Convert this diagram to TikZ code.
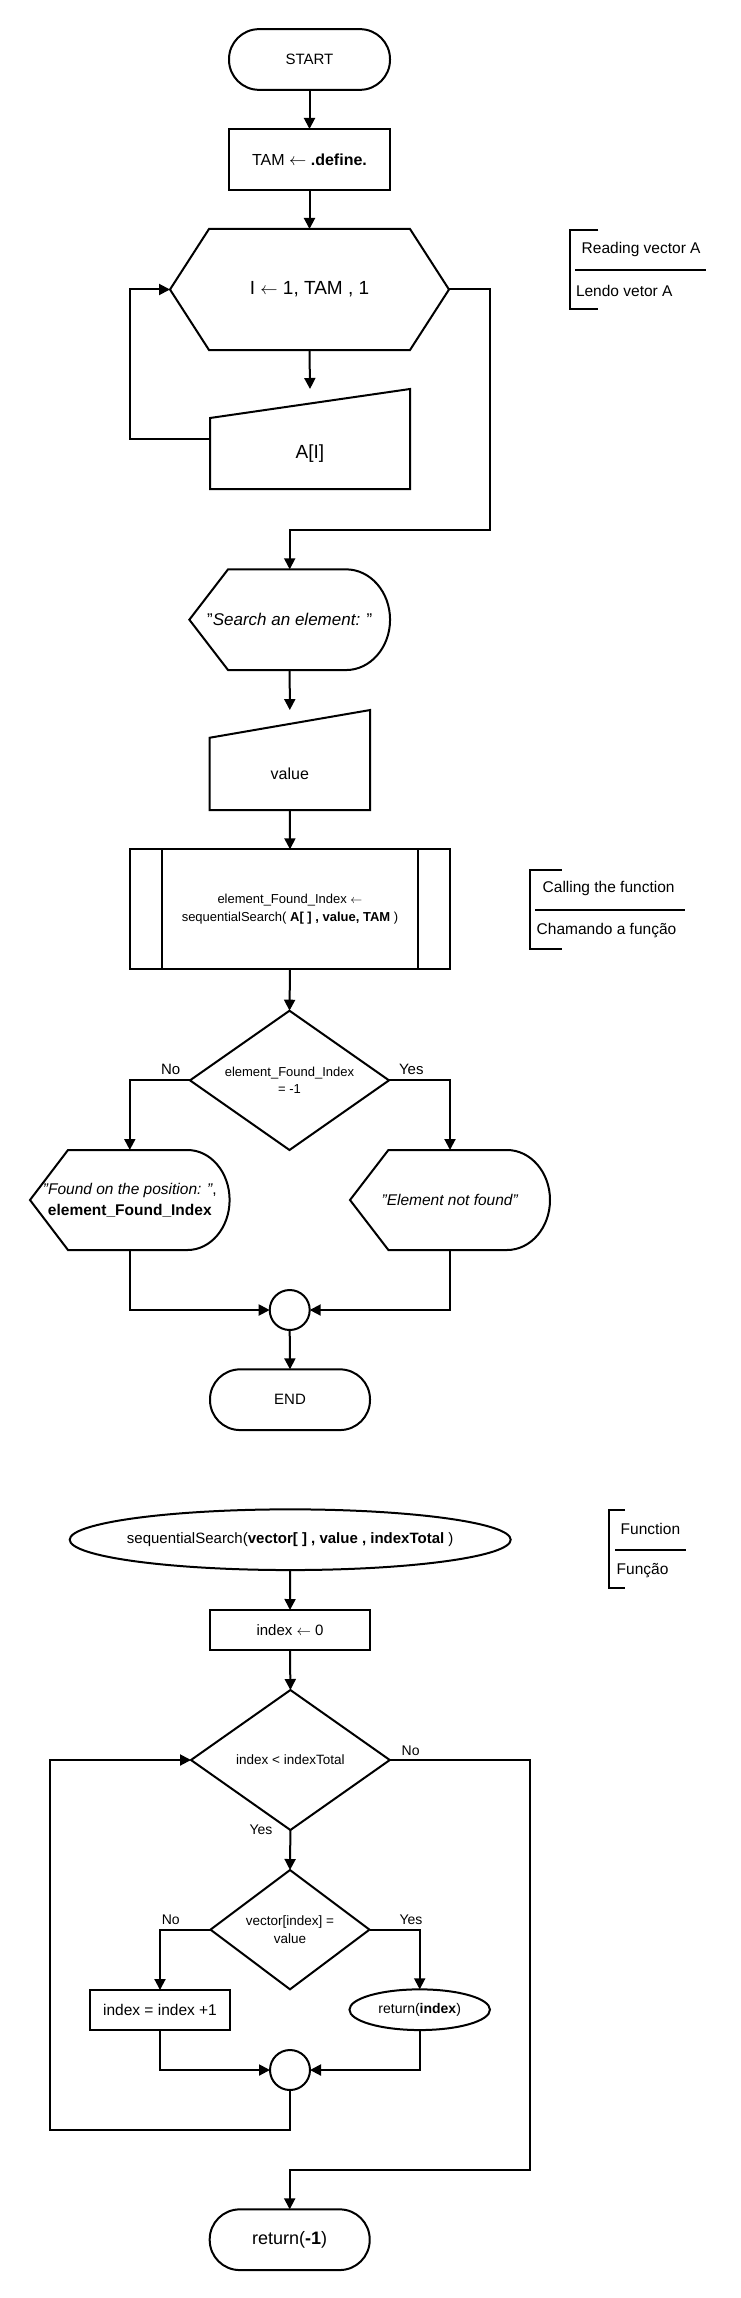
\documentclass[tikz,border=0pt]{standalone}
\usepackage{fontspec}
\setmainfont{Liberation Sans}
\usetikzlibrary{arrows.meta,shapes.geometric,calc}
\newcommand{\larr}{\ensuremath{\leftarrow}}
\begin{document}
\begin{tikzpicture}[x=1pt,y=1pt,line width=2pt,
  every node/.style={inner sep=0pt,outer sep=0pt,align=center},
  arr/.style={-{Triangle[length=11pt,width=11pt]}},
  term/.style={draw,rectangle,rounded corners=30pt,minimum height=60.7pt},
  boxn/.style={draw,rectangle},
  plain/.style={rectangle},
  fa/.style={font=\fontsize{13}{18.6}\selectfont},
  fb/.style={font=\fontsize{14}{17}\selectfont},
  fc/.style={font=\fontsize{15}{20.7}\selectfont},
  fd/.style={font=\fontsize{15.5}{20.7}\selectfont},
  fe/.style={font=\fontsize{16}{19}\selectfont},
  ff/.style={font=\fontsize{17}{20}\selectfont},
  fg/.style={font=\fontsize{18}{21}\selectfont},
  fh/.style={font=\fontsize{19}{22}\selectfont},
  fdia/.style={font=\fontsize{13}{17.6}\selectfont},
  fdib/.style={font=\fontsize{13.5}{18.6}\selectfont},
]
\useasboundingbox (0,0) rectangle (740,-2298);

% ---------- part 1 ----------
\node[term,minimum width=161pt,fc] (start) at (309.5,-59.5) {START};
\node[boxn,minimum width=161pt,minimum height=61pt,fe] (tam) at (309.5,-159.5) {TAM \larr\ \textbf{.define.}};
\node[plain,minimum width=279pt,minimum height=121pt,fh] (hex) at (309.5,-289.5) {I \larr\ 1, TAM , 1};
\draw (hex.west) -- ([xshift=39pt]hex.north west) -- ([xshift=-39pt]hex.north east) -- (hex.east)
  -- ([xshift=-39pt]hex.south east) -- ([xshift=39pt]hex.south west) -- cycle;
\node[plain,minimum width=200pt,minimum height=71pt,fh] (ai) at (310,-453.5) {A[I]};
\draw (ai.south west) -- (ai.north west) -- ([yshift=29pt]ai.north east) -- (ai.south east) -- cycle;
\coordinate (aitop) at ([yshift=29pt]ai.north);

\node[plain,minimum width=200.7pt,minimum height=100.7pt,ff] (srch) at (289.7,-619.7) {"\textit{Search an element: }"};
\draw (srch.west) -- ([xshift=38.7pt]srch.north west) -- ([xshift=-44pt]srch.north east)
  arc[start angle=90,end angle=-90,x radius=44pt,y radius=50.35pt] -- ([xshift=38.7pt]srch.south west) -- cycle;

\node[plain,minimum width=160.4pt,minimum height=72.3pt,fe] (val) at (289.8,-773.9) {value};
\draw (val.south west) -- (val.north west) -- ([yshift=27.7pt]val.north east) -- (val.south east) -- cycle;
\coordinate (valtop) at ([yshift=27.7pt]val.north);

\node[boxn,minimum width=320pt,minimum height=120pt,fa] (sub) at (290,-909.3) {element\_Found\_Index \larr\\sequentialSearch( \textbf{A[ ] , value, TAM} )};
\draw ([xshift=32pt]sub.north west) -- ([xshift=32pt]sub.south west);
\draw ([xshift=-32pt]sub.north east) -- ([xshift=-32pt]sub.south east);

\node[plain,minimum width=199pt,minimum height=139.3pt,fdia] (d1) at (289.5,-1080.35) {element\_Found\_Index\\= -1};
\draw (d1.north) -- (d1.east) -- (d1.south) -- (d1.west) -- cycle;

\node[plain,minimum width=199.6pt,minimum height=100pt,fd] (fnd) at (129.8,-1200) {\textit{"Found on the position: "},\\\textbf{element\_Found\_Index}};
\draw (fnd.west) -- ([xshift=38pt]fnd.north west) -- ([xshift=-42.1pt]fnd.north east)
  arc[start angle=90,end angle=-90,x radius=42.1pt,y radius=50pt] -- ([xshift=38pt]fnd.south west) -- cycle;

\node[plain,minimum width=200pt,minimum height=100pt,fd] (nf) at (450,-1200) {\textit{"Element not found"}};
\draw (nf.west) -- ([xshift=38.4pt]nf.north west) -- ([xshift=-43pt]nf.north east)
  arc[start angle=90,end angle=-90,x radius=43pt,y radius=50pt] -- ([xshift=38.4pt]nf.south west) -- cycle;

\node[draw,circle,minimum size=40pt] (c1) at (289.7,-1310) {};
\node[term,minimum width=160pt,fc] (end) at (290,-1399.7) {END};

\draw[arr] (start.south) -- (tam.north);
\draw[arr] (tam.south) -- (hex.north);
\draw[arr] (hex.south) -- (aitop);
\draw[arr] ([yshift=14.5pt]ai.west) -- ++(-80pt,0) |- (hex.west);
\coordinate (j1) at (490,-530);
\draw[arr] (hex.east) -| (j1) -| (srch.north);
\draw[arr] (srch.south) -- (valtop);
\draw[arr] (val.south) -- (sub.north);
\draw[arr] (sub.south) -- (d1.north);
\draw[arr] (d1.west) -| (fnd.north);
\draw[arr] (d1.east) -| (nf.north);
\draw[arr] (fnd.south) |- (c1.west);
\draw[arr] (nf.south) |- (c1.east);
\draw[arr] (c1.south) -- (end.north);
\node[fc] (no1) at (170.6,-1069.3) {No};
\node[fc] (yes1) at (411.3,-1069.3) {Yes};

% annotations
\draw (598.3,-230) -- (570,-230) -- (570,-309.3) -- (598.3,-309.3);
\draw (575,-270) -- (705.7,-270);
\node[anchor=west,fd] (ann1a) at (581.7,-249.3) {Reading vector A};
\node[anchor=west,fd] (ann1b) at (576,-291) {Lendo vetor A};

\draw (561.7,-870) -- (530,-870) -- (530,-949.3) -- (561.7,-949.3);
\draw (535,-910) -- (685,-910);
\node[anchor=west,fd] (ann2a) at (542.7,-888) {Calling the function};
\node[anchor=west,fd] (ann2b) at (536.7,-931) {Chamando a função};

\draw (625,-1510) -- (609.3,-1510) -- (609.3,-1588.3) -- (625,-1588.3);
\draw (615,-1550) -- (685.7,-1550);
\node[anchor=west,fd] (ann3a) at (620.7,-1529.3) {Function};
\node[anchor=west,fd] (ann3b) at (616.7,-1571) {Função};

% ---------- part 2 ----------
\node[plain,minimum width=441pt,minimum height=60.7pt,fc] (func) at (290.2,-1539.7) {sequentialSearch(\textbf{vector[ ] , value , indexTotal} )};
\draw (func.center) ellipse[x radius=220.5pt,y radius=30.35pt];
\node[boxn,minimum width=160pt,minimum height=40pt,fc] (idx0) at (290,-1630) {index \larr\ 0};
\node[plain,minimum width=198.8pt,minimum height=140pt,fdib] (d2) at (290.4,-1760) {index < indexTotal};
\draw (d2.north) -- (d2.east) -- (d2.south) -- (d2.west) -- cycle;
\node[plain,minimum width=159pt,minimum height=119.3pt,fdib] (d3) at (290,-1929.65) {vector[index] =\\value};
\draw (d3.north) -- (d3.east) -- (d3.south) -- (d3.west) -- cycle;
\node[boxn,minimum width=140pt,minimum height=40pt,fd] (inc) at (160,-2010) {index = index +1};
\node[plain,minimum width=140.5pt,minimum height=40.7pt,fb] (reti) at (419.7,-2009.7) {return(\textbf{index})};
\draw (reti.center) ellipse[x radius=70.25pt,y radius=20.35pt];
\node[draw,circle,minimum size=40pt] (c2) at (290,-2070) {};
\node[term,minimum width=160pt,fg] (ret1) at (289.7,-2239.7) {return(\textbf{-1})};

\draw[arr] (func.south) -- (idx0.north);
\draw[arr] (idx0.south) -- (d2.north);
\draw[arr] (d2.south) -- (d3.north);
\coordinate (j2) at (530,-2170);
\draw[arr] (d2.east) -| (j2) -| (ret1.north);
\draw[arr] (d3.west) -| (inc.north);
\draw[arr] (d3.east) -| (reti.north);
\draw[arr] (inc.south) |- (c2.west);
\draw[arr] (reti.south) |- (c2.east);
\coordinate (j3) at (50,-2130);
\draw[arr] (c2.south) |- (j3) |- (d2.west);
\node[fb] (yes2) at (261,-1830) {Yes};
\node[fb] (no2) at (410.6,-1750.7) {No};
\node[fb] (no3) at (170.8,-1920) {No};
\node[fb] (yes3) at (411,-1920) {Yes};
\end{tikzpicture}
\end{document}
